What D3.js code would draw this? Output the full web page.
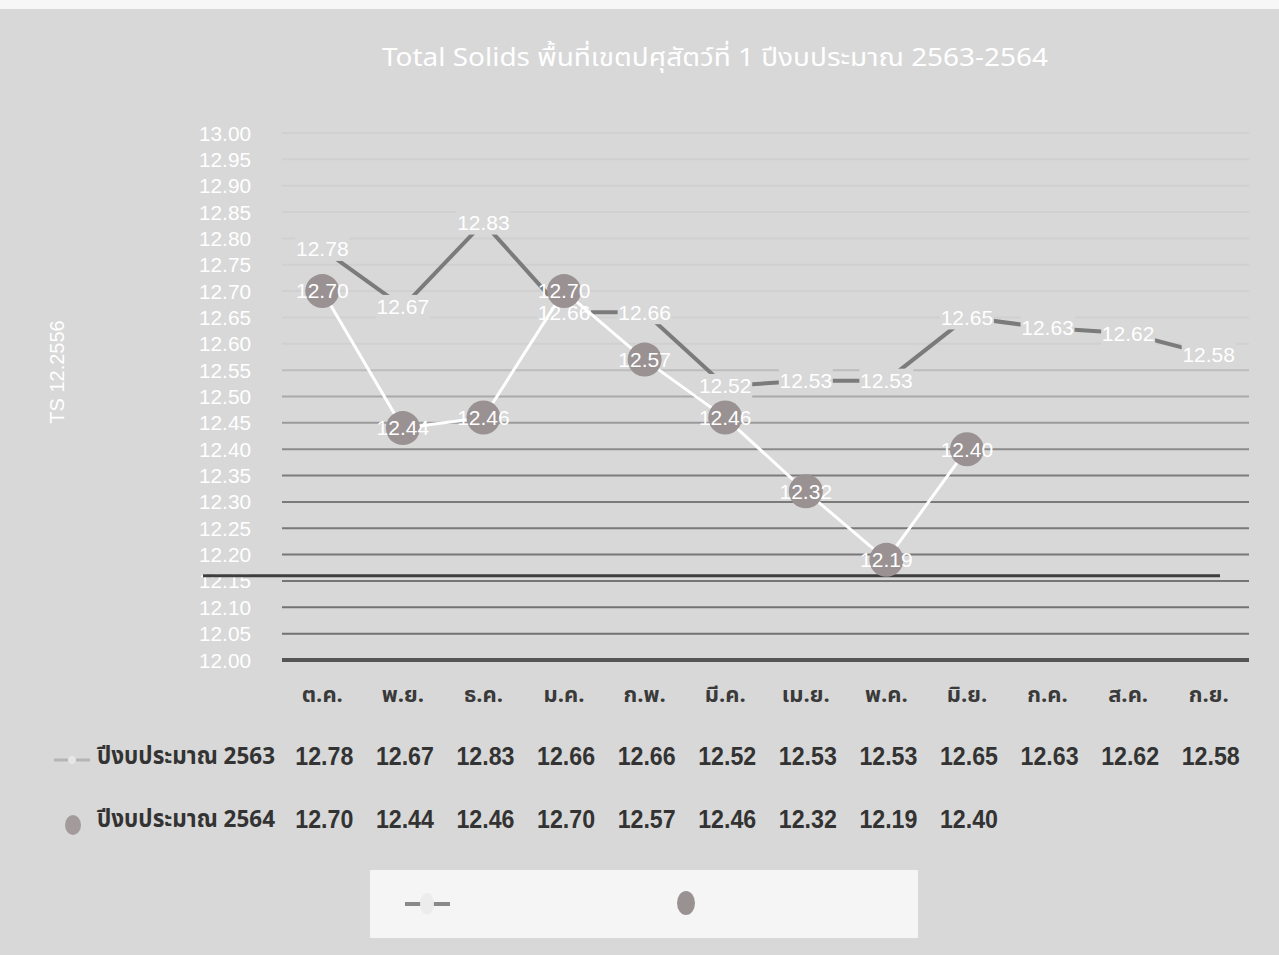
<!DOCTYPE html>
<html><head><meta charset="utf-8">
<script src="https://cdn.jsdelivr.net/npm/d3@7/dist/d3.min.js"></script>
<style>
html,body{margin:0;padding:0;background:#d8d8d8;}
svg{display:block;font-family:"Noto Sans Thai","Tahoma","Liberation Sans",sans-serif;}
</style></head>
<body>
<svg id="c" width="1279" height="955"></svg>
<script>
const months = ["ต.ค.","พ.ย.","ธ.ค.","ม.ค.","ก.พ.","มี.ค.","เม.ย.","พ.ค.","มิ.ย.","ก.ค.","ส.ค.","ก.ย."];
const seriesNames = ["ปีงบประมาณ 2563","ปีงบประมาณ 2564"];
const values2563 = [12.78,12.67,12.83,12.66,12.66,12.52,12.53,12.53,12.65,12.63,12.62,12.58];
const values2564 = [12.70,12.44,12.46,12.70,12.57,12.46,12.32,12.19,12.40];
const yTicks = [12.00,12.05,12.10,12.15,12.20,12.25,12.30,12.35,12.40,12.45,12.50,12.55,12.60,12.65,12.70,12.75,12.80,12.85,12.90,12.95,13.00];
const refValue = 12.16;
const titleText = "Total Solids พื้นที่เขตปศุสัตว์ที่ 1 ปีงบประมาณ 2563-2564";
const yTitle = "TS 12.2556";

const svg = d3.select("#c");
const BG = "#d8d8d8";
const NUM = "'Liberation Sans Narrow','Liberation Sans','DejaVu Sans',sans-serif";
svg.append("rect").attr("width",1279).attr("height",955).attr("fill",BG);
svg.append("rect").attr("width",1279).attr("height",9).attr("fill","#f7f7f7");

const x = d3.scaleBand().domain(months).range([282,1249]);
const y = d3.scaleLinear().domain([12.0,13.0]).range([660,133]);
const cx = m => x(m) + x.bandwidth()/2;
const gridColor = d3.scaleLinear().domain([12.0,12.35,12.5,12.6]).range(["#707070","#7c7c7c","#a9a9a9","#d0d0d0"]).clamp(true);

// title
svg.append("text").attr("x",715).attr("y",66).attr("text-anchor","middle")
  .attr("fill","#ffffff").attr("font-size",25).attr("textLength",666).attr("lengthAdjust","spacingAndGlyphs").text(titleText);

// y axis title
svg.append("text").attr("transform","translate(64,372) rotate(-90)").attr("text-anchor","middle")
  .attr("fill","#ffffff").attr("font-size",20).style("font-family",NUM).text(yTitle);

// gridlines
svg.append("g").selectAll("line").data(yTicks.filter(d=>d>12.0)).join("line")
  .attr("x1",282).attr("x2",1249).attr("y1",d=>y(d)).attr("y2",d=>y(d))
  .attr("stroke",d=>gridColor(d)).attr("stroke-width",2);

// y tick labels
const yAxis = d3.axisLeft(y).tickValues(yTicks).tickFormat(d3.format(".2f")).tickSize(0).tickPadding(0);
const ga = svg.append("g").attr("transform","translate(251,0)").call(yAxis);
ga.select(".domain").remove();
ga.attr("font-family",null).attr("font-size",null);
ga.selectAll("text").attr("fill","#ffffff").attr("dy","0.35em")
  .style("font-family",NUM).style("font-size","20px")
  .attr("textLength",52).attr("lengthAdjust","spacingAndGlyphs");

// baseline
svg.append("line").attr("x1",282).attr("x2",1249).attr("y1",y(12.0)).attr("y2",y(12.0))
  .attr("stroke","#555").attr("stroke-width",4);
// reference line
svg.append("line").attr("x1",203).attr("x2",1220).attr("y1",y(refValue)).attr("y2",y(refValue))
  .attr("stroke","#3e3e3e").attr("stroke-width",3);

// series 2563
const line = d3.line().x((d,i)=>cx(months[i])).y(d=>y(d));
svg.append("path").datum(values2563).attr("d",line).attr("fill","none")
  .attr("stroke","#7b7b7b").attr("stroke-width",4);
const g63 = svg.append("g").selectAll("g").data(values2563).join("g")
  .attr("transform",(d,i)=>`translate(${cx(months[i])},${y(d)})`);
g63.append("rect").attr("x",-27).attr("y",-12).attr("width",54).attr("height",24).attr("fill",BG);
g63.append("text").attr("text-anchor","middle").attr("dy","0.35em").attr("fill","#ffffff")
  .style("font-size","21px").style("font-family",NUM)
  .text(d=>d.toFixed(2));

// series 2564
svg.append("path").datum(values2564).attr("d",line).attr("fill","none")
  .attr("stroke","#ffffff").attr("stroke-width",3);
const g64 = svg.append("g").selectAll("g").data(values2564).join("g")
  .attr("transform",(d,i)=>`translate(${cx(months[i])},${y(d)})`);
g64.append("circle").attr("r",17).attr("fill","#9a9292");
g64.append("text").attr("text-anchor","middle").attr("dy","0.35em").attr("fill","#ffffff")
  .style("font-size","21px").style("font-family",NUM)
  .text(d=>d.toFixed(2));

// x category labels
svg.append("g").selectAll("text").data(months).join("text")
  .attr("x",d=>cx(d)).attr("y",702).attr("text-anchor","middle")
  .attr("fill","#3a3a3a").attr("font-size",22).attr("font-weight","bold").text(d=>d);

// data table
const rows = [values2563, values2564];
const rowY = [756, 819];
rows.forEach((vals,r)=>{
  svg.append("text").attr("x",275).attr("y",rowY[r]).attr("dy","0.35em").attr("text-anchor","end")
    .attr("fill","#333").attr("font-size",24).attr("font-weight","bold")
    .attr("textLength",178).attr("lengthAdjust","spacingAndGlyphs").text(seriesNames[r]);
  svg.append("g").selectAll("text").data(vals).join("text")
    .attr("x",(d,i)=>cx(months[i])+2).attr("y",rowY[r]).attr("dy","0.35em").attr("text-anchor","middle")
    .attr("fill","#333").attr("font-weight","bold")
    .style("font-family",NUM).style("font-size","26px")
    .attr("textLength",58).attr("lengthAdjust","spacingAndGlyphs")
    .text(d=>d.toFixed(2));
});
// table keys
svg.append("line").attr("x1",54).attr("x2",90).attr("y1",760).attr("y2",760).attr("stroke","#b5b5b5").attr("stroke-width",3);
svg.append("circle").attr("cx",72).attr("cy",760).attr("r",4).attr("fill","#e6e6e6");
svg.append("ellipse").attr("cx",73).attr("cy",825).attr("rx",8).attr("ry",10).attr("fill","#a39b9b");

// legend
svg.append("rect").attr("x",370).attr("y",870).attr("width",548).attr("height",68).attr("fill","#f5f5f5");
svg.append("line").attr("x1",405).attr("x2",450).attr("y1",904).attr("y2",904).attr("stroke","#8a8a8a").attr("stroke-width",4);
svg.append("ellipse").attr("cx",427).attr("cy",904).attr("rx",7).attr("ry",11).attr("fill","#ececec");
svg.append("ellipse").attr("cx",686).attr("cy",903).attr("rx",9).attr("ry",12).attr("fill","#9a9292");
</script>
</body></html>
